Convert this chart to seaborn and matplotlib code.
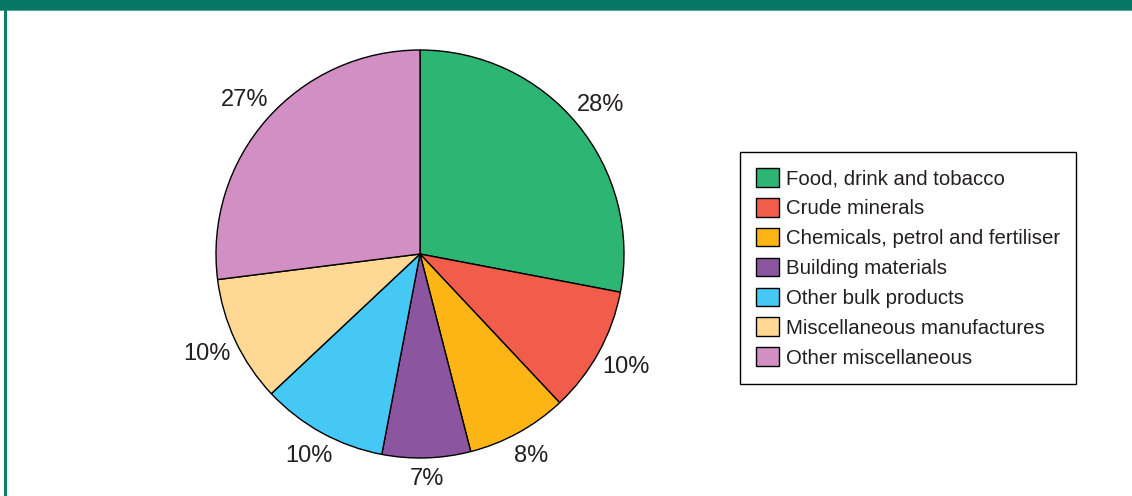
import matplotlib
matplotlib.use('Agg')
import matplotlib.pyplot as plt
import matplotlib.patches as mpatches
import numpy as np
import seaborn as sns

# 데이터
categories = ['Food, drink and tobacco', 'Crude minerals', 'Chemicals, petrol and fertiliser',
              'Building materials', 'Other bulk products', 'Miscellaneous manufactures',
              'Other miscellaneous']
shares = [28, 10, 8, 7, 10, 10, 27]
colors = ['#2DB673', '#F15D4A', '#FDB515', '#8B55A0', '#45C8F4', '#FED894', '#D18FC3']

sns.set_style('white')
plt.rcParams['font.family'] = ['Liberation Sans', 'DejaVu Sans']

W, H = 1132, 496
fig = plt.figure(figsize=(W / 100, H / 100), dpi=100)

# 파이 영역 (중심 420,254 / 반지름 약 204px)
cx, cy, r = 420, 254, 204
scale = 1.35
ax = fig.add_axes([(cx - r * scale) / W, (H - cy - r * scale) / H, 2 * r * scale / W, 2 * r * scale / H])
wedges, texts, autotexts = ax.pie(
    shares, colors=colors, startangle=90, counterclock=False,
    autopct='%d%%', pctdistance=1.12, radius=1,
    wedgeprops={'edgecolor': 'black', 'linewidth': 1.0},
    textprops={'fontsize': 17, 'color': '#231F20'})
# 라벨 거리: 가로 방향일수록 조금 더 바깥으로
for t in autotexts:
    x, y = t.get_position()
    ang = np.arctan2(y, x)
    d = 1.10 + 0.06 * abs(np.cos(ang))
    t.set_position((d * np.cos(ang), d * np.sin(ang)))
ax.set_xlim(-scale, scale)
ax.set_ylim(-scale, scale)
ax.set_aspect('equal')
ax.axis('off')

# 범례
handles = [mpatches.Patch(facecolor=c, edgecolor='black', linewidth=1.0, label=l)
           for c, l in zip(colors, categories)]
leg = fig.legend(handles=handles, loc='upper left', bbox_to_anchor=(740 / W, 1 - 152 / H),
                 fontsize=14.7, frameon=True, fancybox=False, framealpha=1,
                 edgecolor='black', handlelength=1.12, handleheight=1.03, handletextpad=0.33,
                 labelspacing=0.47, borderpad=0.78, borderaxespad=0)
leg.get_frame().set_linewidth(1.0)
for t in leg.get_texts():
    t.set_color('#231F20')

# 상단 띠와 왼쪽 테두리
fig.patches.append(mpatches.Rectangle((0, 1 - 10 / H), 1, 10 / H, transform=fig.transFigure,
                                      facecolor='#047862', edgecolor='none', zorder=5))
fig.patches.append(mpatches.Rectangle((0, 1 - 11 / H), 1, 1.2 / H, transform=fig.transFigure,
                                      facecolor='#5BA894', edgecolor='none', zorder=4))
fig.patches.append(mpatches.Rectangle((4 / W, 0), 2.5 / W, 1, transform=fig.transFigure,
                                      facecolor='#0E7D68', edgecolor='none', zorder=4))

fig.savefig('out.png', dpi=100)
